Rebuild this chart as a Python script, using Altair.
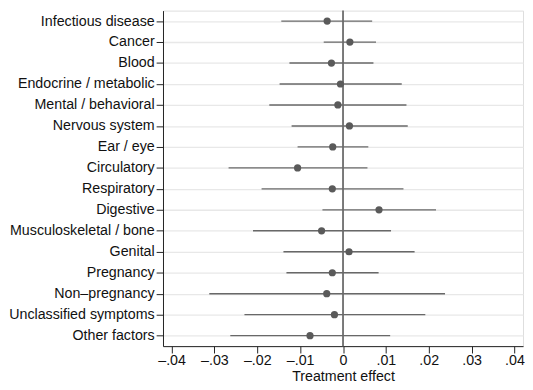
import altair as alt
import pandas as pd

categories = [
    "Infectious disease", "Cancer", "Blood", "Endocrine / metabolic",
    "Mental / behavioral", "Nervous system", "Ear / eye", "Circulatory",
    "Respiratory", "Digestive", "Musculoskeletal / bone", "Genital",
    "Pregnancy", "Non\u2013pregnancy", "Unclassified symptoms", "Other factors",
]
estimate = [-0.0037, 0.0016, -0.0027, -0.0006, -0.0012, 0.0015, -0.0024, -0.0106,
            -0.0025, 0.0084, -0.0050, 0.0014, -0.0025, -0.0038, -0.0020, -0.0077]
ci_low = [-0.0144, -0.0045, -0.0125, -0.0148, -0.0172, -0.0120, -0.0106, -0.0267,
          -0.0190, -0.0048, -0.0210, -0.0139, -0.0132, -0.0312, -0.0230, -0.0263]
ci_high = [0.0068, 0.0077, 0.0071, 0.0137, 0.0148, 0.0151, 0.0059, 0.0057,
           0.0141, 0.0217, 0.0112, 0.0167, 0.0083, 0.0238, 0.0192, 0.0110]
x_ticks = [-0.04, -0.03, -0.02, -0.01, 0, 0.01, 0.02, 0.03, 0.04]

df = pd.DataFrame({"cat": categories, "est": estimate, "lo": ci_low, "hi": ci_high})
zero_df = pd.DataFrame({"v": [0.0]})

FONT = "Liberation Sans"
FS = 14.5
xscale = alt.Scale(domain=[-0.042, 0.042], nice=False, zero=False)
yscale = alt.Scale(type="point", domain=categories, padding=0.5)

label_expr = ("datum.value == 0 ? '0' : (datum.value < 0 ? '\u2013' : '') + "
              "replace(format(abs(datum.value), '.2f'), '0.', '.')")

ci = alt.Chart(df).mark_rule(color="#686868", strokeWidth=1.4).encode(
    x=alt.X("lo:Q", scale=xscale, title="Treatment effect",
            axis=alt.Axis(values=x_ticks, labelExpr=label_expr, grid=False,
                          tickSize=7, tickColor="#222222", domainColor="#222222",
                          labelFontSize=FS, titleFontSize=FS, labelFont=FONT,
                          titleFont=FONT, titleFontWeight="normal",
                          labelColor="#111111", titleColor="#111111",
                          labelPadding=1, titlePadding=3)),
    x2="hi:Q",
    y=alt.Y("cat:N", scale=yscale, sort=categories, title=None,
            axis=alt.Axis(grid=True, gridColor="#e8e8e8", gridWidth=1.3,
                          tickSize=7, tickColor="#222222", domainColor="#222222",
                          labelFontSize=FS, labelFont=FONT, labelColor="#111111",
                          labelPadding=2, minExtent=157, maxExtent=157)),
)

zero = alt.Chart(zero_df).mark_rule(color="#6a6a6a", strokeWidth=1.8).encode(
    x=alt.X("v:Q", scale=xscale),
)

pts = alt.Chart(df).mark_circle(color="#5a5a5a", opacity=1, size=54).encode(
    x=alt.X("est:Q", scale=xscale),
    y=alt.Y("cat:N", scale=yscale, sort=categories),
)

chart = alt.layer(ci, zero, pts).properties(
    width=367, height=342,
    padding={"left": 0, "top": -2, "right": 0, "bottom": 0},
).configure_view(stroke=None).configure(background="white")

chart.save("out.html", embed_options={"renderer": "svg", "actions": False})
